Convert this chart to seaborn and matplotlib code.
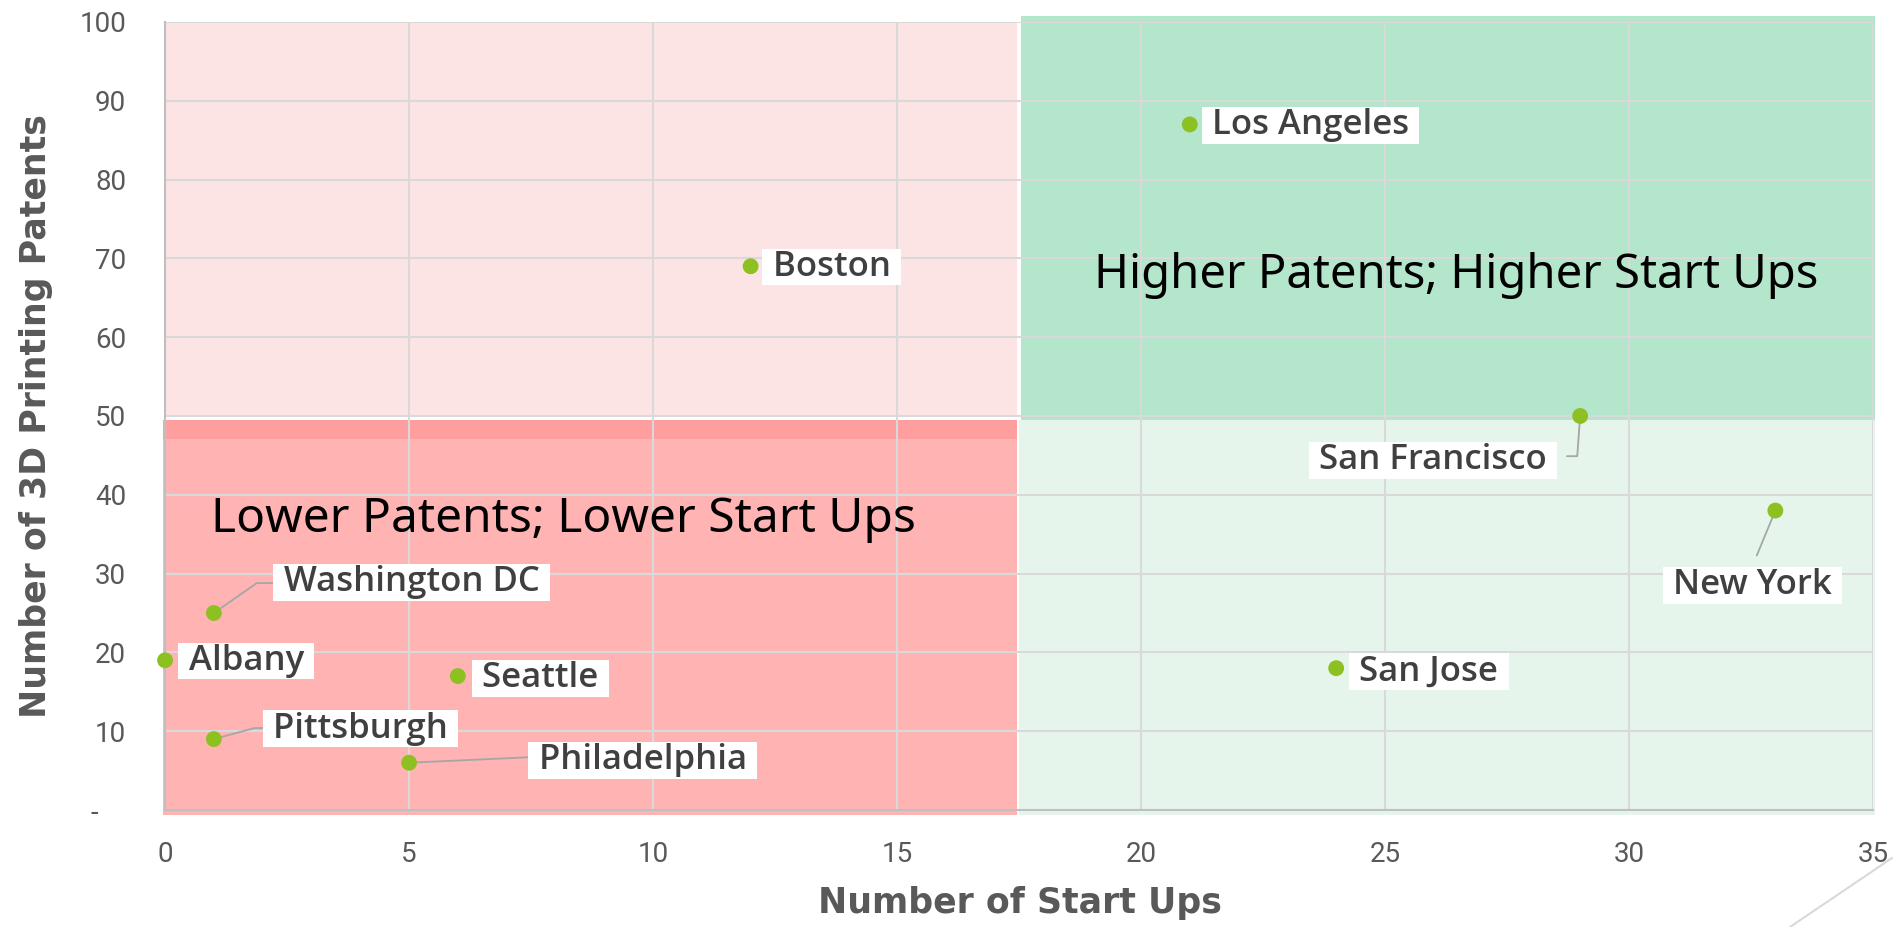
import matplotlib
matplotlib.use("Agg")
import matplotlib.pyplot as plt
import seaborn as sns
import pandas as pd
from matplotlib.patches import Rectangle
from matplotlib.lines import Line2D
from matplotlib.ticker import FuncFormatter

# ---- data ----
cities = ["Los Angeles", "Boston", "San Francisco", "New York", "San Jose",
          "Washington DC", "Albany", "Seattle", "Pittsburgh", "Philadelphia"]
start_ups = [21, 12, 29, 33, 24, 1, 0, 6, 1, 5]
patents = [87, 69, 50, 38, 18, 25, 19, 17, 9, 6]

x_ticks = [0, 5, 10, 15, 20, 25, 30, 35]
y_ticks = [0, 10, 20, 30, 40, 50, 60, 70, 80, 90, 100]

df = pd.DataFrame({"city": cities, "startups": start_ups, "patents": patents})

# label box offset (dx, dy) of the box's left-centre relative to the point
label_offsets = {
    "Los Angeles": (0.27, -0.1), "Boston": (0.27, -0.1),
    "San Francisco": (-5.53, -5.6), "New York": (-2.28, -9.5),
    "San Jose": (0.29, -0.4), "Washington DC": (1.25, 3.9),
    "Albany": (0.30, -0.1), "Seattle": (0.31, -0.3),
    "Pittsburgh": (1.03, 1.3), "Philadelphia": (2.47, 0.3),
}
leaders = {
    "Washington DC": [(0.88, 3.8), (1.25, 3.8)],
    "Pittsburgh": [(0.83, 1.4), (1.03, 1.4)],
    "Philadelphia": [(2.47, 0.7)],
    "San Francisco": [(-0.06, -5.1), (-0.27, -5.1)],
    "New York": [(-0.38, -5.7)],
}

sns.set_theme(style="white")
plt.rcParams["font.family"] = ["Noto Sans", "DejaVu Sans"]

fig = plt.figure(figsize=(18.93, 9.27), dpi=100)
ax = fig.add_axes([0.0872, 0.1262, 0.9022, 0.8501])
ax.set_xlim(0, 35)
ax.set_ylim(0, 100)

# quadrant backgrounds
ax.add_patch(Rectangle((0, 50), 17.45, 50, facecolor="#FDE4E4", edgecolor="none", zorder=0, clip_on=False))
ax.add_patch(Rectangle((17.55, 49.5), 17.5, 51.3, facecolor="#B3E6CA", edgecolor="none", zorder=0, clip_on=False))
ax.add_patch(Rectangle((-0.05, -0.6), 17.5, 50.1, facecolor="#FFB3B3", edgecolor="none", zorder=0, clip_on=False))
ax.add_patch(Rectangle((-0.05, 47.1), 17.5, 2.4, facecolor="#FF9E9E", edgecolor="none", zorder=0, clip_on=False))
ax.add_patch(Rectangle((17.5, -0.6), 17.55, 50.1, facecolor="#E5F5EC", edgecolor="none", zorder=0, clip_on=False))

ax.set_axisbelow(True)
ax.grid(True, color="#D9D9D9", linewidth=1.5)
ax.set_xticks(x_ticks)
ax.set_yticks(y_ticks)
ax.yaxis.set_major_formatter(FuncFormatter(lambda v, p: "-    " if v == 0 else f"{int(v)}"))
ax.tick_params(axis="both", length=0, labelcolor="#595959")
ax.tick_params(axis="y", pad=28)
ax.tick_params(axis="x", pad=22)
plt.setp(ax.get_xticklabels() + ax.get_yticklabels(), fontsize=20, family="Roboto")

for s in ["top", "right"]:
    ax.spines[s].set_visible(False)
for s in ["left", "bottom"]:
    ax.spines[s].set_color("#BFBFBF")
    ax.spines[s].set_linewidth(1.5)

sns.scatterplot(data=df, x="startups", y="patents", ax=ax, color="#8DC021",
                s=130, edgecolor="none", zorder=5, clip_on=False, legend=False)

for c, xv, yv in zip(cities, start_ups, patents):
    dx, dy = label_offsets[c]
    if c in leaders:
        pts = [(xv, yv)] + [(xv + a, yv + b) for a, b in leaders[c]]
        ax.plot([p[0] for p in pts], [p[1] for p in pts], color="#A6A6A6", lw=1.3, zorder=4)
    ax.text(xv + dx, yv + dy, " " + c + " ", ha="left", va="center", fontsize=25,
            fontweight=600, family=["Open Sans", "DejaVu Sans"], color="#404040", zorder=6,
            bbox=dict(boxstyle="square,pad=0.04", facecolor="white", edgecolor="none"))

ax.text(26.46, 67.8, "Higher Patents; Higher Start Ups", ha="center", va="center",
        fontsize=34, color="black", zorder=6)
ax.text(0.94, 36.9, "Lower Patents; Lower Start Ups", ha="left", va="center",
        fontsize=34.5, color="black", zorder=6)

ax.set_xlabel("Number of Start Ups", fontsize=25, fontweight="bold", color="#595959",
              va="center", family="DejaVu Sans")
ax.set_ylabel("Number of 3D Printing Patents", fontsize=25, fontweight="bold", color="#595959",
              va="center", family="DejaVu Sans")
ax.xaxis.set_label_coords(0.5006, -0.118)
ax.yaxis.set_label_coords(-0.0755, 0.5)

fig.add_artist(Line2D([1892 / 1893, 1790 / 1893], [1 - 858 / 927, 0], color="#D9D9D9", lw=1.5))

fig.savefig("out.png", dpi=100)
